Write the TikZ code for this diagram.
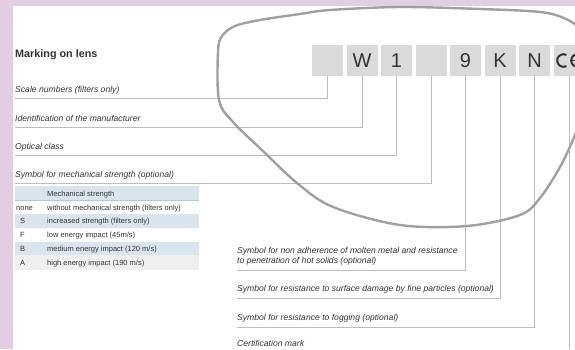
\documentclass[tikz,border=0pt]{standalone}
\usepackage{fontspec}
\setmainfont{Liberation Sans}
\definecolor{lav}{HTML}{E2CDE2}
\definecolor{boxgray}{HTML}{DADADA}
\definecolor{lensgray}{HTML}{A0A0A0}
\definecolor{conngray}{HTML}{BDBDBD}
\definecolor{txt}{HTML}{333333}
\definecolor{tblue}{HTML}{DAE4EC}
\definecolor{tline}{HTML}{B4C8D8}
\definecolor{tgray}{HTML}{EFEFEF}
\begin{document}
\begin{tikzpicture}[x=1pt,y=-1pt,
  markbox/.style={fill=boxgray,minimum width=31pt,minimum height=31pt,inner sep=0pt,font=\fontsize{20}{22}\selectfont,text=txt},
  conn/.style={draw=conngray,line width=0.7pt},
  lbl/.style={anchor=base west,inner sep=0pt,font=\fontsize{8.6}{10}\selectfont\itshape,text=txt},
  trow/.style={anchor=north west,minimum width=184pt,minimum height=13.8pt,inner sep=0pt},
  tcell/.style={anchor=base west,inner sep=0pt,font=\fontsize{7.5}{9}\selectfont,text=txt},
  lens/.style={draw=lensgray,line width=2.4pt,line cap=round}]
\useasboundingbox (0,0) rectangle (575,349);
\clip (0,0) rectangle (575,349);
\fill[lav] (0,0) rectangle (575,349);
\fill[white] (13,6) rectangle (575,349);

% table
\node[trow,fill=tblue] (h) at (15,186) {};
\node[trow,fill=white] (r1) at (15,200) {};
\node[trow,fill=tblue] (r2) at (15,213.8) {};
\node[trow,fill=white] (r3) at (15,227.6) {};
\node[trow,fill=tblue] (r4) at (15,241.4) {};
\node[trow,fill=tgray,minimum height=15pt] (r5) at (15,255.2) {};
\draw[tline,line width=0.8pt] (h.south west) -- (h.south east);
\node[tcell] (hc) at (47,196.5) {Mechanical strength};
\node[tcell] (c1a) at (16,210) {none};
\node[tcell] (c1b) at (47,210) {without mechanical strength (filters only)};
\node[tcell] (c2a) at (20,223.8) {S};
\node[tcell] (c2b) at (47,223.8) {increased strength (filters only)};
\node[tcell] (c3a) at (20,237.6) {F};
\node[tcell] (c3b) at (47,237.6) {low energy impact (45m/s)};
\node[tcell] (c4a) at (20,251.4) {B};
\node[tcell] (c4b) at (47,251.4) {medium energy impact (120 m/s)};
\node[tcell] (c5a) at (20,265.4) {A};
\node[tcell] (c5b) at (47,265.4) {high energy impact (190 m/s)};

% title
\node[anchor=base west,inner sep=0pt,font=\fontsize{10.8}{13}\selectfont\bfseries,text=txt] (title) at (15,57) {Marking on lens};

% marking boxes
\node[markbox] (b1) at (327.5,60.5) {};
\node[markbox] (b2) at (362,60.5) {W};
\node[markbox] (b3) at (396.5,60.5) {1};
\node[markbox] (b4) at (431,60.5) {};
\node[markbox] (b5) at (465.5,60.5) {9};
\node[markbox] (b6) at (500,60.5) {K};
\node[markbox] (b7) at (534.5,60.5) {N};
\node[markbox] (b8) at (569,60.5) {};
\draw[line width=2pt,draw=txt] (563.5,60.5) ++(62:6.3) arc[start angle=62,end angle=298,radius=6.3];
\draw[line width=2pt,draw=txt] (577.5,60.5) ++(90:6.3) arc[start angle=90,end angle=270,radius=6.3];
\draw[line width=1.6pt,draw=txt] (571.5,60.5) -- (576,60.5);

% connectors
\coordinate (e1) at (15,98.3);
\coordinate (e2) at (15,127);
\coordinate (e3) at (15,155);
\coordinate (e4) at (15,183);
\coordinate (e5) at (237,270.3);
\coordinate (e6) at (237,298.3);
\coordinate (e7) at (237,327);
\coordinate (e8) at (569,349);
\draw[conn] (b1.south) |- (e1);
\draw[conn] (b2.south) |- (e2);
\draw[conn] (b3.south) |- (e3);
\draw[conn] (b4.south) |- (e4);
\draw[conn] (b5.south) |- (e5);
\draw[conn] (b6.south) |- (e6);
\draw[conn] (b7.south) |- (e7);
\draw[conn] (b8.south) -- (e8);

% labels
\node[lbl] (t1) at (15,92.8) {Scale numbers (filters only)};
\node[lbl] (t2) at (15,121.5) {Identification of the manufacturer};
\node[lbl] (t3) at (15,149.5) {Optical class};
\node[lbl] (t4) at (15,177.5) {Symbol for mechanical strength (optional)};
\node[lbl] (t5a) at (237,253) {Symbol for non adherence of molten metal and resistance};
\node[lbl] (t5b) at (237,263.5) {to penetration of hot solids (optional)};
\node[lbl] (t6) at (237,291.5) {Symbol for resistance to surface damage by fine particles (optional)};
\node[lbl] (t7) at (237,320.3) {Symbol for resistance to fogging (optional)};
\node[lbl] (t8) at (237,346) {Certification mark};

% lens outline
\draw[lens] plot[smooth,tension=0.55] coordinates {(605,55) (586,33) (566,19) (540,12) (480,9) (400,7) (330,10) (300,14) (260,20) (235,26) (222,36) (218,52) (219,100) (233,122) (263,151) (297,183) (333,207) (400,225) (467,226) (520,215) (540,198) (560,167) (575,135) (590,95)};
\end{tikzpicture}
\end{document}
